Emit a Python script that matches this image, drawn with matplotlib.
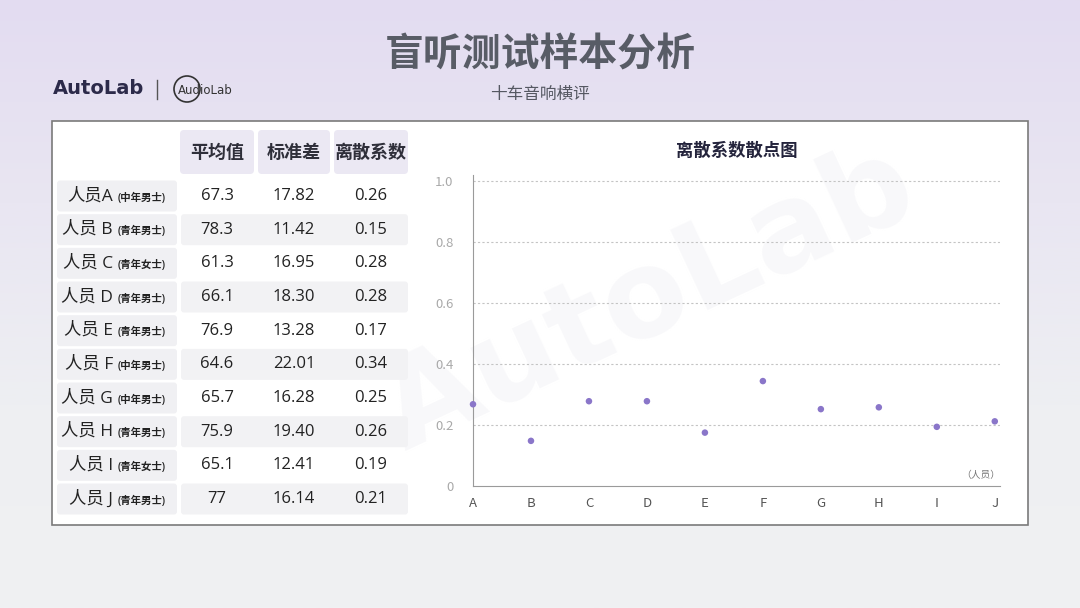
import matplotlib
matplotlib.use("Agg")
import matplotlib.pyplot as plt
import numpy as np
from matplotlib.patches import FancyBboxPatch, Rectangle, Circle
from matplotlib.colors import LinearSegmentedColormap

plt.rcParams["font.family"] = ["Noto Sans CJK SC", "DejaVu Sans"]
MIXED = ["Open Sans", "Noto Sans CJK SC", "DejaVu Sans"]

# ---------------------------------------------------------------- data
persons = ["A", "B", "C", "D", "E", "F", "G", "H", "I", "J"]
row_names = ["人员A", "人员 B", "人员 C", "人员 D", "人员 E",
             "人员 F", "人员 G", "人员 H", "人员 I", "人员 J"]
row_groups = ["(中年男士)", "(青年男士)", "(青年女士)", "(青年男士)", "(青年男士)",
              "(中年男士)", "(中年男士)", "(青年男士)", "(青年女士)", "(青年男士)"]
col_headers = ["平均值", "标准差", "离散系数"]
mean_vals = ["67.3", "78.3", "61.3", "66.1", "76.9", "64.6", "65.7", "75.9", "65.1", "77"]
std_vals = ["17.82", "11.42", "16.95", "18.30", "13.28", "22.01", "16.28", "19.40", "12.41", "16.14"]
cv_vals = ["0.26", "0.15", "0.28", "0.28", "0.17", "0.34", "0.25", "0.26", "0.19", "0.21"]
# points
cv_points = [0.268, 0.148, 0.278, 0.278, 0.175, 0.344, 0.252, 0.258, 0.194, 0.212]
y_ticks = [0, 0.2, 0.4, 0.6, 0.8, 1.0]
y_ticklabels = ["0", "0.2", "0.4", "0.6", "0.8", "1.0"]

W, H = 1080, 608
fig = plt.figure(figsize=(W / 100, H / 100), dpi=100)

# ---------------------------------------------------------------- background
bg = fig.add_axes([0, 0, 1, 1])
bg.set_xlim(0, W)
bg.set_ylim(H, 0)
bg.axis("off")
cmap = LinearSegmentedColormap.from_list("bg", ["#e3dcf1", "#e9e6f2", "#eeeff2", "#f0f1f3"])
grad = np.linspace(0, 1, 256).reshape(-1, 1)
bg.imshow(grad, cmap=cmap, aspect="auto", extent=[0, W, H, 0], zorder=0)

# titles
bg.text(540, 55, "盲听测试样本分析", ha="center", va="center", fontsize=28,
        fontweight="bold", color="#585c66", zorder=2)
bg.text(540, 94, "十车音响横评", ha="center", va="center", fontsize=12,
        color="#555862", zorder=2)

# logos
bg.text(53, 89, "AutoLab", ha="left", va="center", fontsize=14, fontweight="bold",
        color="#2c2a4a", family="DejaVu Sans", zorder=2)
bg.plot([157, 157], [80, 99], color="#555", lw=1, zorder=2)
bg.add_patch(Circle((187, 89), 13, fill=False, ec="#333", lw=1.2, zorder=2))
bg.text(178, 90, "AudioLab", ha="left", va="center", fontsize=8.5,
        color="#333", family="DejaVu Sans", zorder=3)

# main white panel
bg.add_patch(Rectangle((52, 121), 976, 404, facecolor="white", edgecolor="#7a7a7a",
                       lw=1.2, zorder=1))

# faint watermark
bg.text(650, 300, "AutoLab", ha="center", va="center", fontsize=88, fontweight="bold",
        rotation=25, color="#f8f8fa", family="DejaVu Sans", zorder=1.5)

# ---------------------------------------------------------------- table
col_x = [217, 294, 371]
col_l = [180, 258, 334]
col_w = [74, 72, 74]
for cx, cl, cw, h in zip(col_x, col_l, col_w, col_headers):
    bg.add_patch(FancyBboxPatch((cl, 130), cw, 44, boxstyle="round,pad=0,rounding_size=4",
                                facecolor="#ebe8f3", edgecolor="none", zorder=2))
    bg.text(cx, 152, h, ha="center", va="center", fontsize=13, fontweight="bold",
            color="#2f2f3a", zorder=3)

row_h = 33.67
for i in range(len(persons)):
    yc = 196 + i * row_h
    bg.add_patch(FancyBboxPatch((57, yc - 15.5), 120, 31, boxstyle="round,pad=0,rounding_size=3",
                                facecolor="#f0f0f3", edgecolor="none", zorder=2))
    if i % 2 == 1:
        bg.add_patch(FancyBboxPatch((181, yc - 15.5), 227, 31,
                                    boxstyle="round,pad=0,rounding_size=3",
                                    facecolor="#f2f2f4", edgecolor="none", zorder=2))
    bg.text(113, yc, row_names[i], ha="right", va="center", fontsize=12.5,
            color="#222", family=MIXED, fontweight="medium", zorder=3)
    bg.text(118, yc + 2, row_groups[i], ha="left", va="center", fontsize=7.5,
            color="#222", family=MIXED, fontweight="semibold", zorder=3)
    for cx, v in zip(col_x, [mean_vals[i], std_vals[i], cv_vals[i]]):
        bg.text(cx, yc, v, ha="center", va="center", fontsize=12,
                color="#222", family=MIXED, zorder=3)

# ---------------------------------------------------------------- scatter
x_left, x_right = 473, 1000
y_bot, y_top = 486, 175
ax = fig.add_axes([x_left / W, 1 - y_bot / H, (x_right - x_left) / W, (y_bot - y_top) / H])
ax.set_facecolor("none")
ax.set_zorder(5)
xs = np.arange(len(persons))
ax.scatter(xs, cv_points, s=22, color="#8a76c9", edgecolor="none", zorder=4, clip_on=False)
ax.set_xlim(0, 9.09)
ax.set_ylim(0, (y_bot - y_top) / 305)
ax.set_yticks(y_ticks)
ax.set_yticklabels(y_ticklabels)
ax.set_xticks(xs)
ax.set_xticklabels(persons)
ax.tick_params(axis="both", length=0, colors="#a9a9a9", labelsize=9.5)
ax.tick_params(axis="y", pad=14)
ax.tick_params(axis="x", pad=8)
for lab in ax.get_xticklabels():
    lab.set_color("#555")
for s in ["top", "right"]:
    ax.spines[s].set_visible(False)
ax.spines["left"].set_color("#9a9a9a")
ax.spines["bottom"].set_color("#9a9a9a")
for t in y_ticks[1:]:
    ax.axhline(t, color="#c4c4c4", lw=0.8, ls=(0, (2, 2)), zorder=1)
ax.text(1.0, 0.035, "（人员）", transform=ax.transAxes, ha="right", va="center",
        fontsize=7, color="#777")
ax.set_title("离散系数散点图", fontsize=12.5, fontweight="bold", color="#24243c", pad=14)

fig.savefig("out.png", dpi=100)
